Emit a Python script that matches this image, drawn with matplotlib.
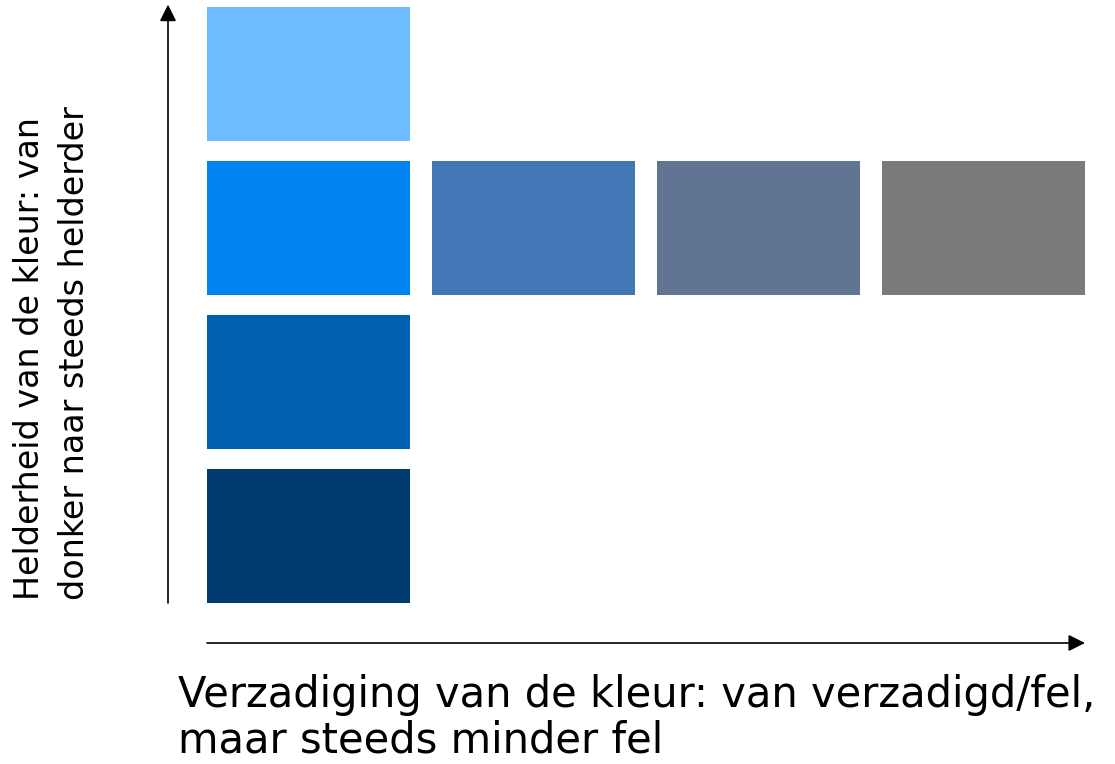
import matplotlib.pyplot as plt

# colour swatches: column = saturation step, row = brightness step (0 = darkest)
columns = [0, 0, 0, 0, 1, 2, 3]
rows = [0, 1, 2, 3, 2, 2, 2]
colors = ['#003C70', '#0060B0', '#0082F0', '#6DBCFF', '#4277B6', '#5F7591', '#7A7A7A']

ylabel = 'Helderheid van de kleur: van\ndonker naar steeds helderder'
xlabel = 'Verzadiging van de kleur: van verzadigd/fel,\nmaar steeds minder fel'

W, H = 1115, 764
fig = plt.figure(figsize=(W / 100, H / 100), dpi=100)

# axes box spans the swatch area in pixels
left, right, top, bottom = 207, 1085, 7, 603
ax = fig.add_axes([left / W, 1 - bottom / H, (right - left) / W, (bottom - top) / H])
pitch_x, pitch_y = 225, 154
ax.set_xlim(0, (right - left) / pitch_x)
ax.set_ylim(0, (bottom - top) / pitch_y)

ax.bar(columns, 134 / pitch_y, width=203 / pitch_x, bottom=rows, align='edge', color=colors, linewidth=0)
ax.axis('off')

# arrows
ax.annotate('', xy=(-39 / (right - left), 1.004), xytext=(-39 / (right - left), 0),
            xycoords='axes fraction', annotation_clip=False,
            arrowprops=dict(arrowstyle='-|>', mutation_scale=25, lw=1.2, color='black', shrinkA=0, shrinkB=0))
ax.annotate('', xy=(1.0, -40 / (bottom - top)), xytext=(0, -40 / (bottom - top)),
            xycoords='axes fraction', annotation_clip=False,
            arrowprops=dict(arrowstyle='-|>', mutation_scale=25, lw=1.2, color='black', shrinkA=0, shrinkB=0))

fig.text(52 / W, 1 - 600 / H, ylabel, rotation=90, ha='center', va='bottom',
         multialignment='left', fontsize=24, linespacing=1.45, family='DejaVu Sans')
fig.text(178 / W, 1 - 674 / H, xlabel, ha='left', va='top', fontsize=30,
         linespacing=1.1, family='DejaVu Sans')

fig.savefig('out.png', dpi=100, facecolor='white')
